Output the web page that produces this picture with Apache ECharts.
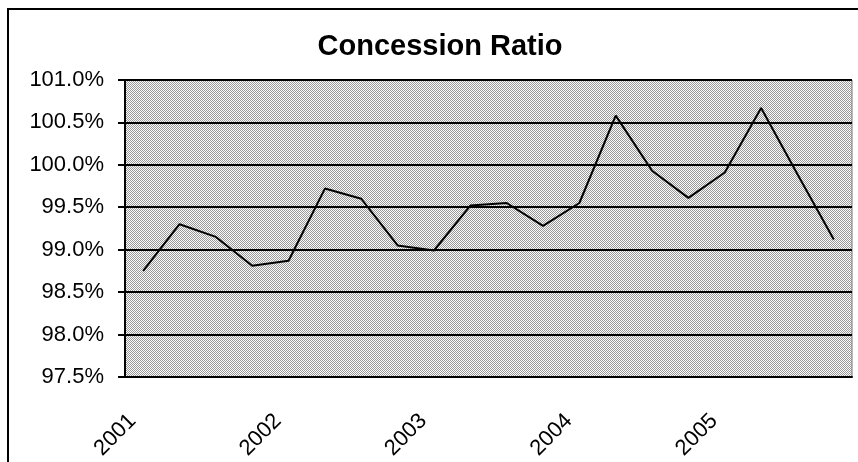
<!DOCTYPE html>
<html>
<head>
<meta charset="utf-8">
<script src="https://cdn.jsdelivr.net/npm/echarts@6/dist/echarts.min.js"></script>
<style>
  html, body { margin: 0; padding: 0; background: #fff; }
  #chart { width: 858px; height: 462px; }
</style>
</head>
<body>
<div id="chart"></div>
<script>
// quarterly, 2001 Q1 .. 2005 Q4
const quarters = [
  '2001 Q1', '2001 Q2', '2001 Q3', '2001 Q4',
  '2002 Q1', '2002 Q2', '2002 Q3', '2002 Q4',
  '2003 Q1', '2003 Q2', '2003 Q3', '2003 Q4',
  '2004 Q1', '2004 Q2', '2004 Q3', '2004 Q4',
  '2005 Q1', '2005 Q2', '2005 Q3', '2005 Q4'
];
const ratio = [
  98.75, 99.30, 99.15, 98.81,
  98.87, 99.72, 99.60, 99.05,
  98.99, 99.52, 99.55, 99.28,
  99.55, 100.58, 99.93, 99.61,
  99.91, 100.67, 99.89, 99.12
];
const yMin = 97.5;
const yMax = 101.0;
const yStep = 0.5;

// stippled plot background, like the old Excel texture fill
const tile = document.createElement('canvas');
tile.width = 2;
tile.height = 2;
const tctx = tile.getContext('2d');
tctx.fillStyle = '#fafafa';
tctx.fillRect(0, 0, 2, 2);
tctx.fillStyle = '#9a9a9a';
tctx.fillRect(0, 0, 1, 1);
tctx.fillRect(1, 1, 1, 1);

const myChart = echarts.init(document.getElementById('chart'));
const option = {
  animation: false,
  title: {
    text: 'Concession Ratio',
    left: 435,
    textAlign: 'center',
    top: 27,
    textStyle: {
      fontFamily: 'Liberation Sans',
      fontSize: 29,
      fontWeight: 'bold',
      color: '#000'
    }
  },
  graphic: [{
    type: 'rect',
    shape: { x: 8, y: 9, width: 870, height: 480 },
    style: { fill: 'none', stroke: '#000', lineWidth: 2 },
    silent: true
  }],
  grid: {
    left: 125,
    right: 6,
    top: 80,
    bottom: 85,
    show: true,
    backgroundColor: { image: tile, repeat: 'repeat' },
    borderColor: '#777',
    borderWidth: 1
  },
  xAxis: {
    type: 'category',
    data: quarters,
    boundaryGap: true,
    axisLine: { lineStyle: { color: '#000', width: 2 } },
    axisTick: { interval: 0, length: 8, lineStyle: { color: '#000', width: 2 } },
    axisLabel: {
      interval: 3,
      rotate: 45,
      margin: 30,
      padding: [0, 15, 0, 0],
      fontFamily: 'Liberation Sans',
      fontSize: 22,
      color: '#000',
      formatter: (v) => v.slice(0, 4)
    }
  },
  yAxis: {
    type: 'value',
    min: yMin,
    max: yMax,
    interval: yStep,
    axisLine: { show: true, lineStyle: { color: '#000', width: 2 } },
    axisTick: { show: true, length: 7, lineStyle: { color: '#000', width: 2 } },
    axisLabel: {
      margin: 21,
      fontFamily: 'Liberation Sans',
      fontSize: 22,
      color: '#000',
      formatter: (v) => v.toFixed(1) + '%'
    },
    splitLine: { lineStyle: { color: '#000', width: 2 } }
  },
  series: [{
    type: 'line',
    data: ratio,
    symbol: 'none',
    lineStyle: { color: '#000', width: 2 }
  }]
};

myChart.setOption(option);
</script>
</body>
</html>
